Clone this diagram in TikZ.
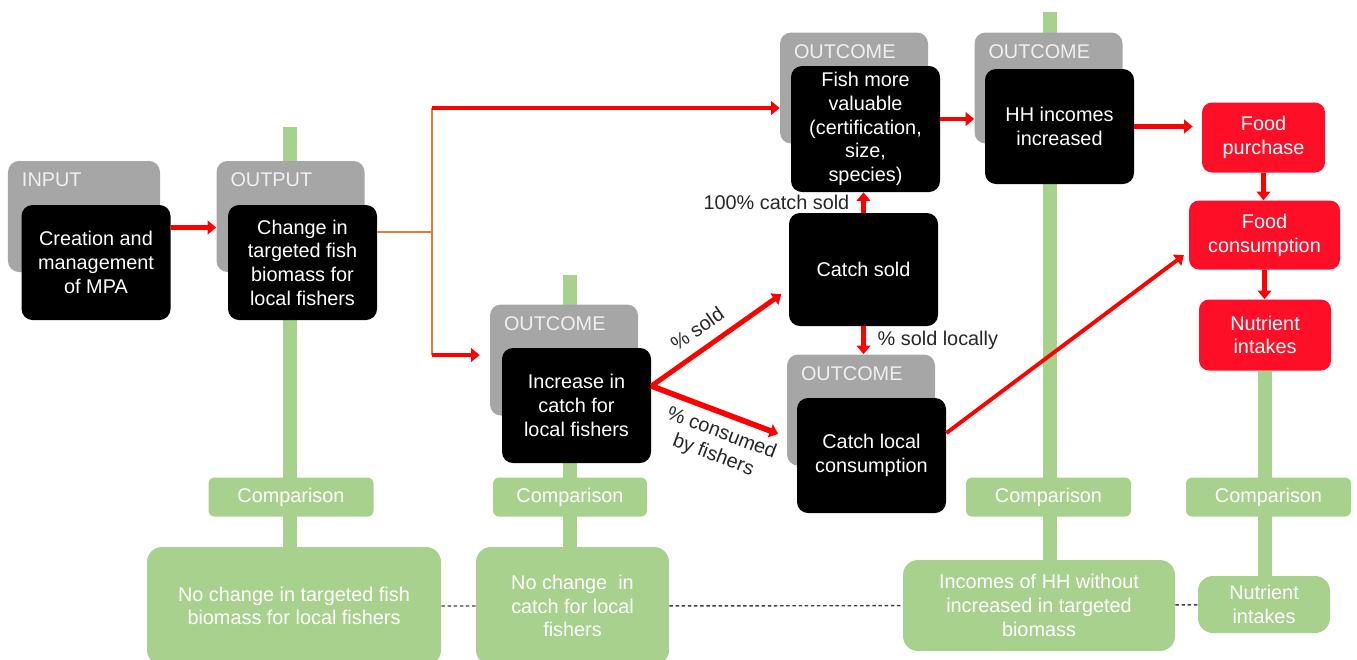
\documentclass[tikz,border=0pt]{standalone}
\usepackage{fontspec}
\setmainfont{Liberation Sans}
\usetikzlibrary{arrows.meta,backgrounds}
\definecolor{stgrey}{HTML}{A6A6A6}
\definecolor{lgreen}{HTML}{A9D18E}
\definecolor{fred}{HTML}{FF0F27}
\definecolor{orng}{HTML}{E07B39}
\definecolor{dotgrey}{HTML}{404040}
\definecolor{lbl}{HTML}{262626}
\tikzset{
	stagetxt/.style={anchor=north west, inner sep=0pt, xshift=0.28cm, yshift=-0.24cm, text=white!94!black},
	stage/.style={fill=stgrey, rounded corners=0.22cm, minimum width=2.96cm, minimum height=2.22cm,
		label={[stagetxt]north west:#1}},
	blk/.style={fill=black, text=white, rounded corners=0.22cm, minimum width=2.98cm, minimum height=2.3cm, align=center, inner sep=1pt},
	fbox/.style={fill=fred, text=white, rounded corners=0.2cm, minimum height=1.4cm, align=center, inner sep=1pt},
	cmp/.style={fill=lgreen, text=white, rounded corners=0.12cm, minimum width=3.3cm, minimum height=0.78cm},
	ctf/.style={fill=lgreen, text=white, rounded corners=0.3cm, align=center, inner sep=1pt},
	arr/.style={red, line width=2.8pt, -{Triangle[length=0.17cm,width=0.27cm]}},
	bar/.style={lgreen, line width=0.28cm},
	dotline/.style={dotgrey, line width=0.8pt, dash pattern=on 2pt off 1.5pt},
	tag/.style={text=lbl, inner sep=1pt}
}
\begin{document}
\begin{tikzpicture}[font=\fontsize{11.3}{13.5}\selectfont]
	\useasboundingbox (0,0) rectangle (27.14,-13.18);
	%阶段框
	\node[stage=INPUT, minimum width=3.04cm] (ing) at (1.68,-4.33) {};
	\node[stage=OUTPUT] (outg) at (5.81,-4.33) {};
	\node[stage=OUTCOME] (fishg) at (17.08,-1.76) {};
	\node[stage=OUTCOME] (hhg) at (20.97,-1.76) {};
	\node[stage=OUTCOME] (incg) at (11.28,-7.2) {};
	\node[stage=OUTCOME] (clg) at (17.22,-8.2) {};
	%内容框
	\node[blk] (inb) at (1.92,-5.25) {Creation and\\management\\of MPA};
	\node[blk] (outb) at (6.05,-5.25) {Change in\\targeted fish\\biomass for\\local fishers};
	\node[blk, minimum height=2.52cm] (fishb) at (17.31,-2.58) {Fish more\\valuable\\(certification,\\size,\\species)};
	\node[blk] (hhb) at (21.19,-2.53) {HH incomes\\increased};
	\node[blk, minimum height=2.26cm] (cs) at (17.27,-5.39) {Catch sold};
	\node[blk] (incb) at (11.53,-8.11) {Increase in\\catch for\\local fishers};
	\node[blk] (clb) at (17.43,-9.11) {Catch local\\consumption};
	%食物
	\node[fbox, minimum width=2.46cm] (fp) at (25.27,-2.75) {Food\\purchase};
	\node[fbox, minimum width=3.02cm, minimum height=1.38cm] (fc) at (25.29,-4.7) {Food\\consumption};
	\node[fbox, minimum width=2.64cm, minimum height=1.42cm] (ni) at (25.3,-6.7) {Nutrient\\intakes};
	%对照
	\node[cmp] (cmp-1) at (5.82,-9.94) {Comparison};
	\node[cmp, minimum width=3.08cm] (cmp-2) at (11.4,-9.94) {Comparison};
	\node[cmp] (cmp-3) at (20.97,-9.94) {Comparison};
	\node[cmp] (cmp-4) at (25.37,-9.94) {Comparison};
	\node[ctf, minimum width=5.88cm, minimum height=2.36cm] (ctf-1) at (5.88,-12.12) {No change in targeted fish\\biomass for local fishers};
	\node[ctf, minimum width=3.86cm, minimum height=2.36cm] (ctf-2) at (11.45,-12.12) {No change\ \ in\\catch for local\\fishers};
	\node[ctf, minimum width=5.44cm, minimum height=1.82cm] (ctf-3) at (20.78,-12.11) {Incomes of HH without\\increased in targeted\\biomass};
	\node[ctf, minimum width=2.64cm, minimum height=1.14cm] (ctf-4) at (25.28,-12.09) {Nutrient\\intakes};
	\draw[dotline] (ctf-1) -- (ctf-2) (ctf-2) -- (ctf-3) (ctf-3) -- (ctf-4);
	%分叉
	\coordinate (fork-m) at (8.64,-4.64);
	\coordinate (fork-t) at (8.64,-2.16);
	\coordinate (fork-b) at (8.64,-7.1);
	\coordinate (brk) at ([yshift=0.39cm]incb.east);
	\draw[orng, line width=0.8pt] (fork-m -| outb.east) -- (fork-m) (fork-t) -- (fork-b);
	%箭头
	\draw[arr] ([yshift=0.7cm]inb.east) -- ([yshift=0.7cm]inb.east -| outg.west);
	\draw[arr] (fork-t) -- (fork-t -| fishg.west);
	\draw[arr, shorten >=0.2cm] (fork-b) -- (fork-b -| incg.west);
	\draw[arr] ([yshift=0.2cm]fishb.east) -- ([yshift=0.2cm]fishb.east -| hhg.west);
	\draw[arr, shorten >=0.18cm] (hhb.east) -- (hhb.east -| fp.west);
	\draw[arr] (fp.south) -- (fp.south |- fc.north);
	\draw[arr] (fc.south) -- (fc.south |- ni.north);
	\draw[arr] (cs.north) -- (cs.north |- fishb.south) node[tag, midway, left, xshift=-0.2cm]{100\% catch sold};
	\draw[arr] (cs.south) -- (cs.south |- clg.north) node[tag, midway, right, xshift=0.2cm]{\% sold locally};
	\draw[arr, shorten >=0.18cm] (brk) -- ([yshift=-0.39cm]cs.west) node[tag, pos=0.42, above=0.18cm, sloped]{\% sold};
	\draw[arr, line width=3.2pt, shorten >=0.18cm] (brk) -- ([yshift=-0.54cm]clg.west) node[tag, pos=0.57, below=0.12cm, sloped, align=center]{\% consumed\\by fishers};
	\draw[arr, line width=2.2pt, shorten >=0.12cm] ([yshift=0.45cm]clb.east) -- ([yshift=-0.33cm]fc.west);
	%绿色竖条
	\begin{scope}[on background layer]
		\coordinate (bar-1) at (5.8,-2.54);
		\coordinate (bar-2) at (11.4,-5.5);
		\coordinate (bar-3) at (21.0,-0.24);
		\draw[bar] (bar-1) -- (bar-1 |- ctf-1.north);
		\draw[bar] (bar-2) -- (bar-2 |- ctf-2.north);
		\draw[bar] (bar-3) -- (bar-3 |- ctf-3.north);
		\draw[bar] (ni.south) -- (ni.south |- ctf-4.north);
	\end{scope}
\end{tikzpicture}
\end{document}
